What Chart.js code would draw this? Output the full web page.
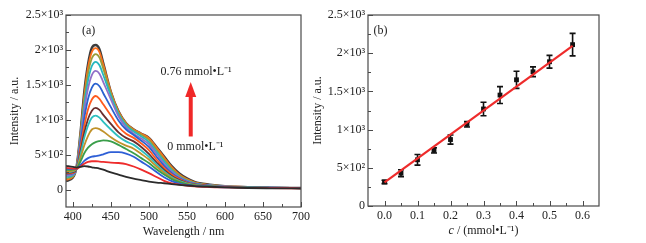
<!DOCTYPE html>
<html>
<head>
<meta charset="utf-8">
<script src="https://cdn.jsdelivr.net/npm/chart.js@4.4.1/dist/chart.umd.min.js"></script>
<style>
  html, body { margin: 0; padding: 0; background: #fff; }
  #spectra { position: absolute; left: 0; top: 0; }
  #calib { position: absolute; left: 305px; top: 0; }
</style>
</head>
<body>
<canvas id="spectra" width="323" height="243"></canvas>
<canvas id="calib" width="341" height="243"></canvas>
<script>
// ---- panel (a): emission spectra, 0 -> 0.76 mmol/L ----
const wavelengths = [391, 400, 405, 410, 415, 420, 425, 430, 435, 440, 450, 460, 470, 480, 490, 500, 510, 520, 530, 540, 550, 560, 580, 600, 630, 660, 700];

const s00 = [340, 325, 315, 325, 335, 330, 318, 310, 300, 285, 245, 215, 180, 155, 135, 115, 100, 90, 78, 68, 58, 50, 40, 32, 22, 18, 15];
const s01 = [310, 300, 300, 330, 370, 395, 405, 405, 400, 395, 385, 380, 365, 330, 285, 235, 180, 125, 90, 70, 55, 45, 35, 30, 25, 20, 18];
const s02 = [300, 295, 300, 350, 410, 450, 470, 480, 490, 505, 535, 535, 515, 470, 400, 330, 250, 175, 120, 85, 65, 52, 40, 33, 27, 22, 20];
const s03 = [280, 285, 300, 400, 520, 600, 650, 680, 695, 705, 690, 640, 580, 520, 450, 380, 290, 215, 150, 105, 75, 58, 43, 35, 28, 23, 20];
const s04 = [260, 270, 300, 450, 630, 770, 860, 880, 865, 830, 750, 680, 630, 585, 510, 430, 330, 240, 165, 115, 82, 62, 45, 36, 28, 23, 20];
const s05 = [250, 260, 300, 500, 740, 920, 1030, 1060, 1030, 970, 860, 760, 690, 640, 560, 470, 360, 260, 180, 125, 88, 66, 47, 37, 29, 24, 20];
const s06 = [240, 250, 300, 540, 810, 1010, 1130, 1170, 1140, 1070, 940, 820, 740, 690, 610, 510, 390, 280, 195, 135, 93, 70, 49, 38, 30, 24, 20];
const s07 = [230, 240, 300, 600, 910, 1150, 1290, 1340, 1300, 1220, 1060, 900, 800, 740, 660, 565, 430, 310, 215, 150, 100, 75, 52, 40, 31, 25, 21];
const s08 = [220, 230, 300, 660, 1020, 1300, 1460, 1517, 1480, 1380, 1180, 990, 860, 780, 700, 610, 470, 340, 235, 160, 110, 80, 55, 42, 32, 26, 21];
const s09 = [200, 215, 310, 710, 1130, 1450, 1640, 1700, 1660, 1540, 1290, 1050, 890, 800, 730, 650, 510, 370, 255, 175, 120, 85, 58, 44, 33, 27, 22];
const s10 = [180, 200, 310, 740, 1210, 1560, 1770, 1830, 1780, 1640, 1340, 1080, 920, 830, 760, 680, 540, 400, 275, 185, 128, 90, 60, 45, 34, 27, 22];
const s11 = [160, 190, 320, 770, 1280, 1660, 1880, 1940, 1890, 1730, 1380, 1100, 940, 850, 785, 710, 570, 430, 300, 200, 138, 95, 63, 46, 34, 28, 22];
const s12 = [140, 180, 320, 790, 1340, 1750, 1970, 2025, 1970, 1790, 1400, 1120, 950, 860, 800, 735, 600, 460, 320, 215, 150, 102, 66, 47, 35, 28, 22];
const s13 = [120, 170, 330, 810, 1400, 1800, 2030, 2070, 2010, 1810, 1400, 1120, 950, 860, 800, 740, 610, 475, 335, 230, 160, 110, 70, 48, 35, 28, 22];

const spectra = [s00, s01, s02, s03, s04, s05, s06, s07, s08, s09, s10, s11, s12, s13];
const spectraColors = ['#2b2b2b', '#ee2c2c', '#2e5fd6', '#3a9e4a', '#c0922a', '#2fc0c0', '#6a2e2e',
                       '#ff5a1e', '#2a62d0', '#9170c8', '#25b8bf', '#9a9d3a', '#ff6f1a', '#3d3d3d'];

const wavelengthTicks = [400, 450, 500, 550, 600, 650, 700];
const intensityTicks = [0, 500, 1000, 1500, 2000, 2500];
const intensityTickLabels = ['0', '5×10²', '1×10³', '1.5×10³', '2×10³', '2.5×10³'];

// ---- panel (b): calibration ----
const conc = [0, 0.05, 0.1, 0.15, 0.2, 0.25, 0.3, 0.35, 0.4, 0.45, 0.5, 0.57];
const concIntensity = [315, 430, 605, 728, 870, 1070, 1270, 1452, 1652, 1757, 1888, 2112];
const concError = [22, 45, 70, 35, 60, 35, 88, 110, 112, 64, 84, 147];
const fitConc = [0, 0.57];
const fitIntensity = [308, 2095];
const concTicks = [0, 0.1, 0.2, 0.3, 0.4, 0.5, 0.6];
const concTickLabels = ['0.0', '0.1', '0.2', '0.3', '0.4', '0.5', '0.6'];

const serif = 'Liberation Serif, Times New Roman, serif';
const ink = '#222';
const font12 = {family: serif, size: 12};

// box frame with inward major + minor ticks on bottom and left
const frame = {
  id: 'frame',
  afterDraw(chart) {
    const {ctx, chartArea: a, scales: {x, y}} = chart;
    ctx.save();
    ctx.strokeStyle = '#4a4a4a';
    ctx.lineWidth = 1.2;
    ctx.strokeRect(a.left, a.top, a.right - a.left, a.bottom - a.top);
    ctx.lineWidth = 1;
    const xt = x.ticks.map(t => t.value);
    const yt = y.ticks.map(t => t.value);
    ctx.beginPath();
    xt.forEach((v, i) => {
      const px = Math.round(x.getPixelForValue(v)) + 0.5;
      ctx.moveTo(px, a.bottom); ctx.lineTo(px, a.bottom - 5);
      if (i < xt.length - 1) {
        const mx = Math.round(x.getPixelForValue((v + xt[i + 1]) / 2)) + 0.5;
        ctx.moveTo(mx, a.bottom); ctx.lineTo(mx, a.bottom - 3);
      }
    });
    yt.forEach((v, i) => {
      const py = Math.round(y.getPixelForValue(v)) + 0.5;
      ctx.moveTo(a.left, py); ctx.lineTo(a.left + 5, py);
      if (i < yt.length - 1) {
        const my = Math.round(y.getPixelForValue((v + yt[i + 1]) / 2)) + 0.5;
        ctx.moveTo(a.left, my); ctx.lineTo(a.left + 3, my);
      }
    });
    ctx.stroke();
    ctx.restore();
  }
};

const fixedTicks = values => scale => { scale.ticks = values.map(v => ({value: v})); };

// text notes and arrow for panel (a), placed in data units
const spectraNotes = {
  id: 'spectraNotes',
  afterDatasetsDraw(chart) {
    const {ctx, scales: {x, y}} = chart;
    ctx.save();
    ctx.fillStyle = ink;
    ctx.font = '12px ' + serif;
    ctx.textAlign = 'left';
    ctx.textBaseline = 'middle';
    ctx.fillText('(a)', x.getPixelForValue(412), y.getPixelForValue(2270));
    ctx.textAlign = 'center';
    ctx.fillText('0.76 mmol•L⁻¹', x.getPixelForValue(562), y.getPixelForValue(1690));
    ctx.fillText('0 mmol•L⁻¹', x.getPixelForValue(561), y.getPixelForValue(610));
    // red arrow
    const ax = x.getPixelForValue(555);
    const y0 = y.getPixelForValue(760);
    const y1 = y.getPixelForValue(1540);
    ctx.fillStyle = '#f02828';
    ctx.fillRect(ax - 2, y1 + 12, 4, y0 - y1 - 12);
    ctx.beginPath();
    ctx.moveTo(ax, y1);
    ctx.lineTo(ax - 5.5, y1 + 15);
    ctx.lineTo(ax + 5.5, y1 + 15);
    ctx.closePath();
    ctx.fill();
    ctx.restore();
  }
};

new Chart(document.getElementById('spectra'), {
  type: 'line',
  data: {
    datasets: spectra.map((s, i) => ({
      data: wavelengths.map((w, k) => ({x: w, y: s[k]})),
      borderColor: spectraColors[i],
      borderWidth: i === spectra.length - 1 ? 2.4 : 1.8,
      pointRadius: 0,
      cubicInterpolationMode: 'monotone'
    }))
  },
  options: {
    responsive: false,
    animation: false,
    layout: {padding: {top: 15, right: 22, left: 0, bottom: 0}},
    plugins: {legend: false, tooltip: false},
    scales: {
      x: {
        type: 'linear', min: 391, max: 700,
        afterBuildTicks: fixedTicks(wavelengthTicks),
        afterFit: s => { s.height = 36; },
        grid: {display: false, drawTicks: false}, border: {display: false},
        ticks: {font: font12, color: ink, padding: 3, maxRotation: 0, autoSkip: false,
                callback: v => String(v)},
        title: {display: true, text: 'Wavelength / nm', font: font12, color: ink,
                padding: {top: 0, bottom: 4}}
      },
      y: {
        min: -250, max: 2500,
        afterBuildTicks: fixedTicks(intensityTicks),
        afterFit: s => { s.width = 66; },
        grid: {display: false, drawTicks: false}, border: {display: false},
        ticks: {font: font12, color: ink, padding: 3, autoSkip: false,
                callback: (v, i) => intensityTickLabels[i]},
        title: {display: true, text: 'Intensity / a.u.', font: font12, color: ink,
                padding: {top: 8, bottom: 0}}
      }
    }
  },
  plugins: [frame, spectraNotes]
});

// error bars and labels for panel (b)
const errorBars = {
  id: 'errorBars',
  beforeDatasetsDraw(chart) {
    const {ctx, scales: {x, y}} = chart;
    ctx.save();
    ctx.strokeStyle = '#111';
    ctx.lineWidth = 1.6;
    ctx.beginPath();
    conc.forEach((c, i) => {
      const px = x.getPixelForValue(c);
      const lo = y.getPixelForValue(concIntensity[i] - concError[i]);
      const hi = y.getPixelForValue(concIntensity[i] + concError[i]);
      ctx.moveTo(px, lo); ctx.lineTo(px, hi);
      ctx.moveTo(px - 3, lo); ctx.lineTo(px + 3, lo);
      ctx.moveTo(px - 3, hi); ctx.lineTo(px + 3, hi);
    });
    ctx.stroke();
    ctx.restore();
  },
  afterDraw(chart) {
    const {ctx, chartArea: a, scales: {x, y}} = chart;
    ctx.save();
    ctx.fillStyle = ink;
    ctx.textBaseline = 'middle';
    ctx.font = '12px ' + serif;
    ctx.fillText('(b)', x.getPixelForValue(-0.033), y.getPixelForValue(2290));
    // axis title with italic c
    const t1 = 'c', t2 = ' / (mmol•L⁻¹)';
    ctx.font = 'italic 12px ' + serif;
    const w1 = ctx.measureText(t1).width;
    ctx.font = '12px ' + serif;
    const w2 = ctx.measureText(t2).width;
    const cx = (a.left + a.right) / 2 - (w1 + w2) / 2;
    const ty = chart.height - 12;
    ctx.font = 'italic 12px ' + serif;
    ctx.fillText(t1, cx, ty);
    ctx.font = '12px ' + serif;
    ctx.fillText(t2, cx + w1, ty);
    ctx.restore();
  }
};

new Chart(document.getElementById('calib'), {
  type: 'scatter',
  data: {
    datasets: [
      {
        type: 'line',
        data: fitConc.map((c, i) => ({x: c, y: fitIntensity[i]})),
        borderColor: '#ee2b2b',
        borderWidth: 2.2,
        pointRadius: 0,
        order: 0
      },
      {
        data: conc.map((c, i) => ({x: c, y: concIntensity[i]})),
        pointStyle: 'rect',
        pointRadius: 3.4,
        backgroundColor: '#111',
        borderColor: '#111',
        borderWidth: 0,
        order: 1
      }
    ]
  },
  options: {
    responsive: false,
    animation: false,
    layout: {padding: {top: 15, right: 47, left: 0, bottom: 0}},
    plugins: {legend: false, tooltip: false},
    scales: {
      x: {
        type: 'linear', min: -0.05, max: 0.65,
        afterBuildTicks: fixedTicks(concTicks),
        afterFit: s => { s.height = 37; },
        grid: {display: false, drawTicks: false}, border: {display: false},
        ticks: {font: font12, color: ink, padding: 3, maxRotation: 0, autoSkip: false,
                callback: (v, i) => concTickLabels[i]},
        title: {display: false}
      },
      y: {
        min: 0, max: 2500,
        afterBuildTicks: fixedTicks(intensityTicks),
        afterFit: s => { s.width = 63; },
        grid: {display: false, drawTicks: false}, border: {display: false},
        ticks: {font: font12, color: ink, padding: 3, autoSkip: false,
                callback: (v, i) => intensityTickLabels[i]},
        title: {display: true, text: 'Intensity / a.u.', font: font12, color: ink,
                padding: {top: 6, bottom: 0}}
      }
    }
  },
  plugins: [frame, errorBars]
});
</script>
</body>
</html>
